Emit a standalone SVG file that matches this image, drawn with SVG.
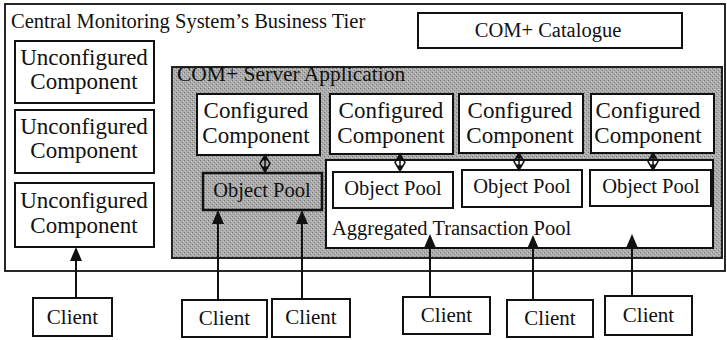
<svg xmlns="http://www.w3.org/2000/svg" width="727" height="340" viewBox="0 0 727 340">
  <style>
    text { font-family: "Liberation Serif", "Times New Roman", serif; fill: #111; }
    .box { fill: #fff; stroke: #111; stroke-width: 2; }
    .gbox { fill: url(#grain); stroke: #222; stroke-width: 2; }
    .comp { font-size: 23px; text-anchor: middle; }
    .pool { font-size: 20.5px; text-anchor: middle; }
    .client { font-size: 21px; text-anchor: middle; }
    .lbl { font-size: 20.5px; }
    .arr { stroke: #111; stroke-width: 2; fill: none; marker-end: url(#head); }
    .dia { stroke: #111; stroke-width: 1.5; fill: none; }
  </style>
  <defs>
    <pattern id="grain" width="4" height="4" patternUnits="userSpaceOnUse">
      <rect width="4" height="4" fill="#acacac"/>
      <rect x="0" y="0" width="1" height="1" fill="#767676"/>
      <rect x="2" y="2" width="1" height="1" fill="#848484"/>
      <rect x="3" y="1" width="1" height="1" fill="#cacaca"/>
      <rect x="1" y="3" width="1" height="1" fill="#c6c6c6"/>
    </pattern>
    <marker id="head" markerUnits="userSpaceOnUse" markerWidth="14" markerHeight="12" refX="12" refY="6" orient="auto">
      <path d="M0,0 L14,6 L0,12 Z" fill="#111"/>
    </marker>
    <g id="dblarrow">
      <path d="M0,0 L5,8.5 L0,17 L-5,8.5 Z" class="dia"/>
      <line x1="0" y1="0" x2="0" y2="17" stroke="#111" stroke-width="1.5"/>
      <path d="M0,0 L3,5.5 L-3,5.5 Z" fill="#111"/>
      <path d="M0,17 L3,11.5 L-3,11.5 Z" fill="#111"/>
    </g>
  </defs>

  <g id="business-tier">
    <rect x="5" y="4" width="720" height="267" fill="#fff" stroke="#111" stroke-width="1.8"/>
    <text class="lbl" x="11" y="28">Central Monitoring System’s Business Tier</text>
  </g>

  <g id="com-catalogue">
    <rect class="box" x="418" y="13" width="264" height="35"/>
    <text class="pool" x="548" y="37">COM+ Catalogue</text>
  </g>

  <g id="unconfigured-1">
    <rect class="box" x="15" y="41" width="139" height="62"/>
    <text class="comp" x="84" y="65">Unconfigured</text>
    <text class="comp" x="84" y="89">Component</text>
  </g>
  <g id="unconfigured-2">
    <rect class="box" x="15" y="110" width="139" height="63"/>
    <text class="comp" x="84" y="134">Unconfigured</text>
    <text class="comp" x="84" y="158">Component</text>
  </g>
  <g id="unconfigured-3">
    <rect class="box" x="15" y="183" width="139" height="64"/>
    <text class="comp" x="84" y="208">Unconfigured</text>
    <text class="comp" x="84" y="233">Component</text>
  </g>

  <g id="com-server-application">
    <rect class="gbox" x="172" y="67" width="550" height="191"/>
    <text x="177" y="81" font-size="21.5">COM+ Server Application</text>
  </g>

  <g id="aggregated-transaction-pool">
    <rect class="box" x="326" y="160" width="387" height="88"/>
    <text class="lbl" x="332" y="235">Aggregated Transaction Pool</text>
  </g>

  <g id="configured-1">
    <rect class="box" x="197" y="94" width="123" height="61"/>
    <text class="comp" x="256" y="118">Configured</text>
    <text class="comp" x="256" y="143">Component</text>
  </g>
  <g id="configured-2">
    <rect class="box" x="330" y="94" width="123" height="60"/>
    <text class="comp" x="391" y="118">Configured</text>
    <text class="comp" x="391" y="143">Component</text>
  </g>
  <g id="configured-3">
    <rect class="box" x="459" y="94" width="124" height="59"/>
    <text class="comp" x="520" y="118">Configured</text>
    <text class="comp" x="520" y="143">Component</text>
  </g>
  <g id="configured-4">
    <rect class="box" x="591" y="94" width="123" height="59"/>
    <text class="comp" x="648" y="118">Configured</text>
    <text class="comp" x="648" y="143">Component</text>
  </g>

  <g id="object-pool-1">
    <rect x="203" y="173" width="119" height="37" fill="none" stroke="#111" stroke-width="2.5"/>
    <text class="pool" x="262" y="197">Object Pool</text>
  </g>
  <g id="object-pool-2">
    <rect class="box" x="333" y="172" width="120" height="36"/>
    <text class="pool" x="393" y="195">Object Pool</text>
  </g>
  <g id="object-pool-3">
    <rect class="box" x="462" y="170" width="120" height="37"/>
    <text class="pool" x="522" y="193">Object Pool</text>
  </g>
  <g id="object-pool-4">
    <rect class="box" x="590" y="170" width="121" height="36"/>
    <text class="pool" x="651" y="193">Object Pool</text>
  </g>

  <g id="client-1">
    <rect class="box" x="33" y="298" width="79" height="38"/>
    <text class="client" x="72.5" y="324">Client</text>
  </g>
  <g id="client-2">
    <rect class="box" x="182" y="300" width="85" height="37"/>
    <text class="client" x="224.5" y="325">Client</text>
  </g>
  <g id="client-3">
    <rect class="box" x="272" y="299" width="78" height="38"/>
    <text class="client" x="311" y="324">Client</text>
  </g>
  <g id="client-4">
    <rect class="box" x="403" y="297" width="87" height="37"/>
    <text class="client" x="446.5" y="322">Client</text>
  </g>
  <g id="client-5">
    <rect class="box" x="507" y="300" width="86" height="37"/>
    <text class="client" x="550" y="325">Client</text>
  </g>
  <g id="client-6">
    <rect class="box" x="605" y="296" width="87" height="39"/>
    <text class="client" x="648.5" y="322">Client</text>
  </g>

  <g id="connectors">
    <use href="#dblarrow" x="265" y="155"/>
    <use href="#dblarrow" x="400" y="154"/>
    <use href="#dblarrow" x="519" y="153"/>
    <use href="#dblarrow" x="653" y="153"/>
    <line class="arr" x1="76" y1="298" x2="76" y2="249"/>
    <line class="arr" x1="218" y1="300" x2="218" y2="212"/>
    <line class="arr" x1="302" y1="299" x2="302" y2="212"/>
    <line class="arr" x1="430" y1="297" x2="430" y2="236"/>
    <line class="arr" x1="533" y1="300" x2="533" y2="237"/>
    <line class="arr" x1="632" y1="296" x2="632" y2="236"/>
  </g>
</svg>
